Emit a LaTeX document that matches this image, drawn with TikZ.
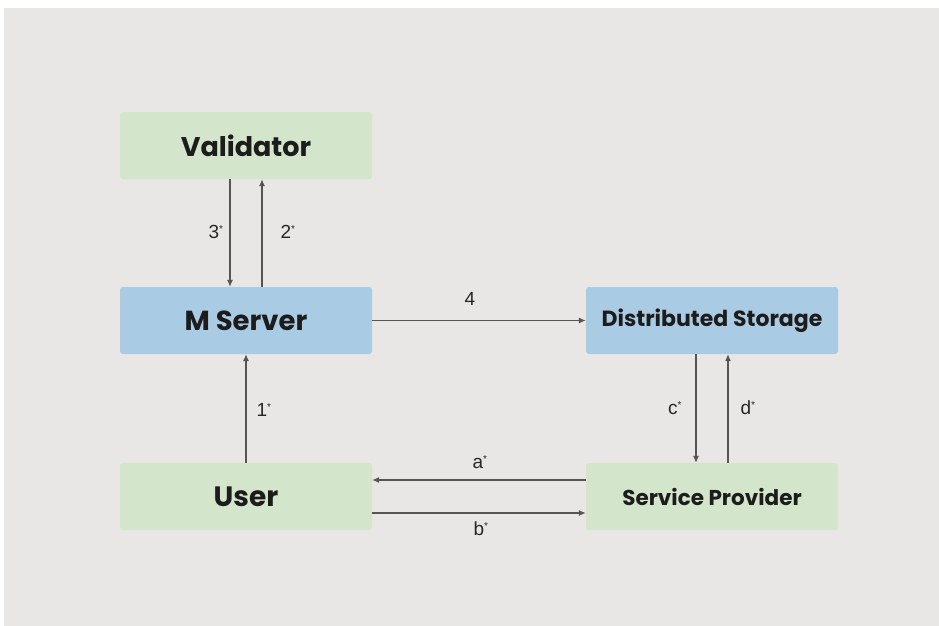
\documentclass[tikz,border=0pt]{standalone}
\usepackage{fontspec}
\setmainfont{Liberation Sans}
\newfontfamily\titlefont{Poppins}
\usetikzlibrary{arrows.meta}

\definecolor{pagebg}{HTML}{E8E7E5}
\definecolor{greenbox}{HTML}{D3E6CB}
\definecolor{bluebox}{HTML}{A9CBE4}
\definecolor{linegray}{HTML}{555555}
\definecolor{inkdark}{HTML}{1C1C1C}

\tikzset{
  block/.style={rounded corners=3pt, minimum width=252pt, minimum height=67pt,
    inner sep=0pt, text=inkdark, font=\titlefont\bfseries},
  greenblock/.style={block, fill=greenbox},
  blueblock/.style={block, fill=bluebox},
  flow/.style={draw=linegray, line width=1.1pt, -{Latex[length=7pt,width=6pt]}},
  tag/.style={text=black!85, font=\fontsize{19}{22}\selectfont, inner sep=0pt}
}

\newcommand{\st}{\textsuperscript{\fontsize{10}{10}\selectfont *}}

\begin{document}
\begin{tikzpicture}[x=1pt,y=-1pt]
  \useasboundingbox (0,0) rectangle (939,626);
  \fill[white] (0,0) rectangle (939,626);
  \fill[pagebg] (3.5,8) rectangle (939,626);

  % blocks
  \node[greenblock, font=\titlefont\bfseries\fontsize{27}{31}\selectfont] (val) at (246,145.5) {Validator};
  \node[blueblock, font=\titlefont\bfseries\fontsize{27.5}{31}\selectfont] (ms) at (246,320.5) {M Server};
  \node[greenblock, font=\titlefont\bfseries\fontsize{28}{32}\selectfont] (usr) at (246,496.5) {User};
  \node[blueblock, font=\titlefont\bfseries\fontsize{22}{26}\selectfont] (ds) at (712,320.5) {Distributed Storage};
  \node[greenblock, font=\titlefont\bfseries\fontsize{21.5}{25}\selectfont] (sp) at (712,496.5) {Service Provider};

  % connectors
  \draw[flow] ([xshift=-16pt]val.south) -- ([xshift=-16pt]ms.north);
  \draw[flow] ([xshift=16pt]ms.north) -- ([xshift=16pt]val.south);
  \draw[flow] (usr.north) -- (ms.south);
  \draw[flow] (ms.east) -- (ds.west);
  \draw[flow] ([xshift=-16pt]ds.south) -- ([xshift=-16pt]sp.north);
  \draw[flow] ([xshift=16pt]sp.north) -- ([xshift=16pt]ds.south);
  \draw[flow] ([yshift=16.5pt]sp.west) -- ([yshift=16.5pt]usr.east);
  \draw[flow] ([yshift=-16.5pt]usr.east) -- ([yshift=-16.5pt]sp.west);

  % labels
  \node[tag] (l3) at (216,232) {3\st};
  \node[tag] (l2) at (288,232) {2\st};
  \node[tag] (l1) at (264,410) {1\st};
  \node[tag] (l4) at (470,299) {4};
  \node[tag] (lc) at (675,408) {c\st};
  \node[tag] (ld) at (748,408) {d\st};
  \node[tag] (la) at (480,462) {a\st};
  \node[tag] (lb) at (481,529) {b\st};
\end{tikzpicture}
\end{document}
